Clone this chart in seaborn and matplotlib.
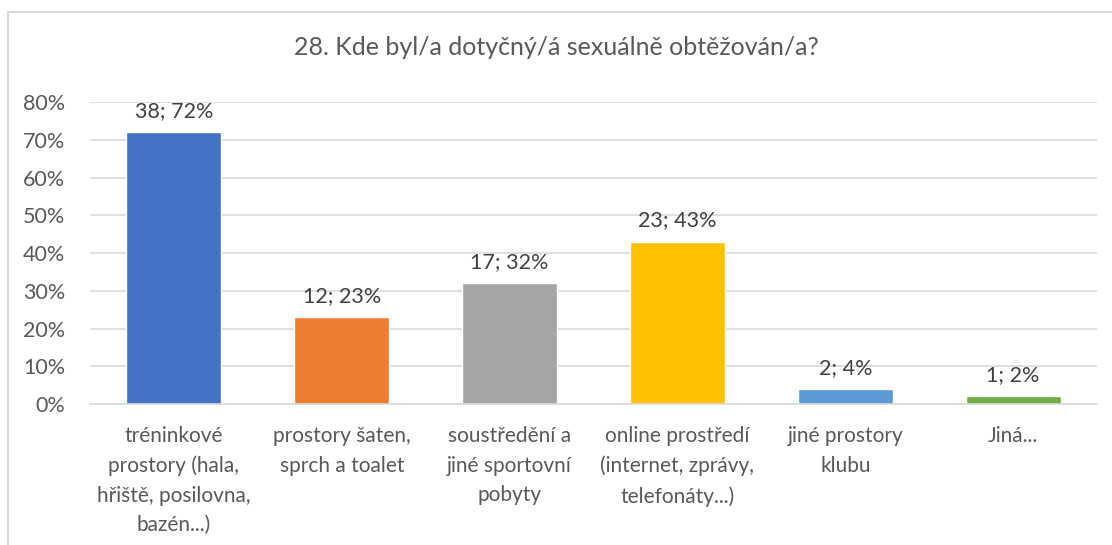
import matplotlib
matplotlib.use('Agg')
import matplotlib.pyplot as plt
import seaborn as sns
import pandas as pd
from matplotlib.patches import Rectangle

# data
categories = ['tréninkové\nprostory (hala,\nhřiště, posilovna,\nbazén...)',
              'prostory šaten,\nsprch a toalet',
              'soustředění a\njiné sportovní\npobyty',
              'online prostředí\n(internet, zprávy,\ntelefonáty...)',
              'jiné prostory\nklubu',
              'Jiná...']
counts = [38, 12, 17, 23, 2, 1]
percents = [72, 23, 32, 43, 4, 2]
colors = ['#4472C4', '#ED7D31', '#A5A5A5', '#FFC000', '#5B9BD5', '#70AD47']

df = pd.DataFrame({'kat': categories, 'pct': percents})

sns.set_theme(style='white')
plt.rcParams['font.family'] = ['Lato', 'DejaVu Sans']
txt = '#595959'

fig = plt.figure(figsize=(11.12, 5.45), dpi=100)
ax = fig.add_axes([0.081, 0.2587, 0.9055, 0.5541])

sns.barplot(data=df, x='kat', y='pct', hue='kat', palette=colors,
            width=0.566, legend=False, ax=ax, saturation=1)

ax.set_ylim(0, 80)
ax.set_yticks(range(0, 81, 10))
ax.set_yticklabels([f'{v}%' for v in range(0, 81, 10)], fontsize=15.5, color=txt)
ax.yaxis.grid(True, color='#D9D9D9', linewidth=1.2)
ax.set_axisbelow(True)
for s in ['top', 'right', 'left']:
    ax.spines[s].set_visible(False)
ax.spines['bottom'].set_color('#D9D9D9')
ax.spines['bottom'].set_linewidth(1.2)
ax.tick_params(axis='y', length=0, pad=18)
ax.tick_params(axis='x', length=0, pad=16)
ax.set_xticks(range(len(categories)))
ax.set_xticklabels(categories, fontsize=15, color=txt, linespacing=1.58)
ax.set_xlabel('')
ax.set_ylabel('')

for cont in ax.containers:
    for bar in cont:
        i = int(round(bar.get_x() + bar.get_width() / 2))
        ax.annotate(f'{counts[i]}; {percents[i]}%',
                    (bar.get_x() + bar.get_width() / 2, bar.get_height()),
                    xytext=(0, 8), textcoords='offset points',
                    ha='center', va='bottom', fontsize=15.5, color='#404040')

fig.text(0.5, 0.912, '28. Kde byl/a dotyčný/á sexuálně obtěžován/a?',
         ha='center', va='center', fontsize=18, color=txt)

# light frame around the chart area
fig.patches.append(Rectangle((8 / 1112, -0.05), 1.0, 1 - 12 / 545 + 0.05,
                             transform=fig.transFigure, fill=False,
                             edgecolor='#D9D9D9', linewidth=1.5))

fig.savefig('out.png', dpi=100, facecolor='white')
